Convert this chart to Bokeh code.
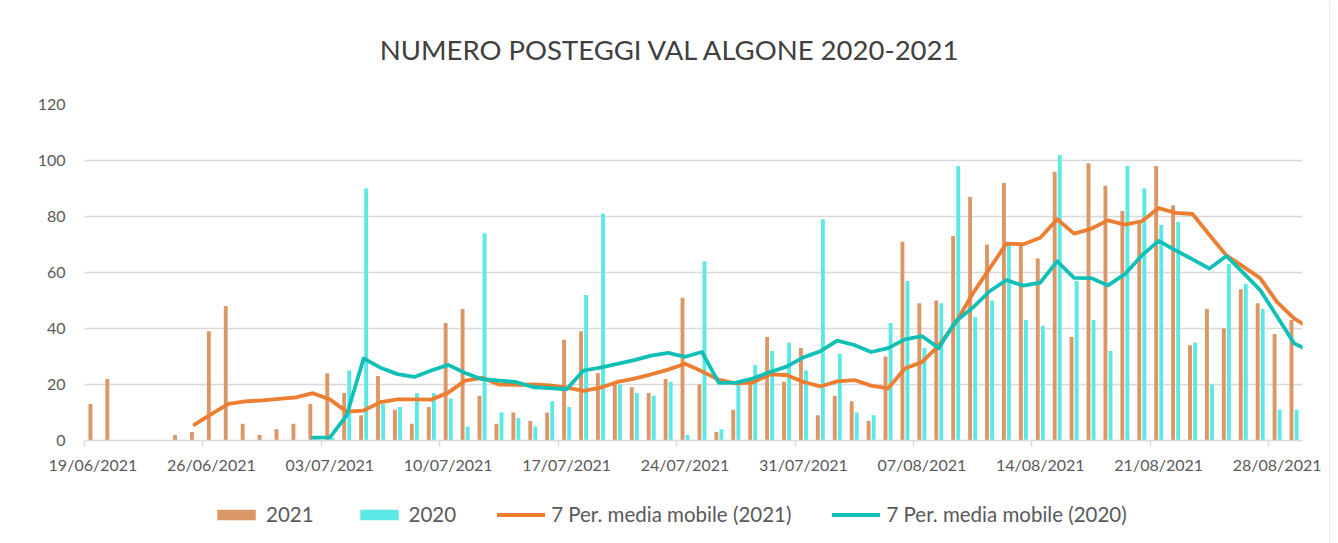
import pandas as pd
from bokeh.plotting import figure
from bokeh.layouts import column, row
from bokeh.models import Range1d, FixedTicker, Legend, LegendItem, ColumnDataSource, Label
from bokeh.transform import dodge
from bokeh.embed import file_html
from bokeh.resources import INLINE

NaN = float("nan")

# ---- data -------------------------------------------------------------
# daily categories (19/06/2021 ... 30/08/2021)
dates = pd.date_range("2021-06-19", periods=73)

tick_labels = ["19/06/2021", "26/06/2021", "03/07/2021", "10/07/2021",
               "17/07/2021", "24/07/2021", "31/07/2021", "07/08/2021",
               "14/08/2021", "21/08/2021", "28/08/2021"]

# bars 2021 (19/06 .. 29/08)
posteggi_2021 = [13, 22, 0, 0, 0, 2, 3, 39, 48, 6, 2, 4, 6, 13, 24, 17, 9, 23,
                 11, 6, 12, 42, 47, 16, 6, 10, 7, 10, 36, 39, 24, 20, 19, 17,
                 22, 51, 20, 3, 11, 21, 37, 21, 33, 9, 16, 14, 7, 30, 71, 49,
                 50, 73, 87, 70, 92, 70, 65, 96, 37, 99, 91, 82, 78, 98, 84,
                 34, 47, 40, 54, 49, 38, 43]

# bars 2020 (same calendar days, data from 02/07)
posteggi_2020 = [NaN] * 13 + [1, 1, 25, 90, 13, 12, 17, 17, 15, 5, 74, 10, 8,
                              5, 14, 12, 52, 81, 20, 17, 16, 21, 2, 64, 4, 21,
                              27, 32, 35, 25, 79, 31, 10, 9, 42, 57, 33, 49, 98,
                              44, 50, 70, 43, 41, 102, 57, 43, 32, 98, 90, 77,
                              78, 35, 20, 63, 56, 47, 11, 11]

# 7 period moving averages as drawn (19/06 .. 30/08)
media_mobile_2021 = [NaN] * 6 + [5.7, 9.4, 13.1, 14.0, 14.3, 14.9, 15.4, 16.9,
                                 14.7, 10.3, 10.7, 13.7, 14.7, 14.7, 14.6, 17.1,
                                 21.4, 22.4, 20.0, 19.9, 20.0, 19.7, 18.9, 17.7,
                                 18.9, 20.9, 22.1, 23.6, 25.3, 27.4, 24.7, 21.7,
                                 20.4, 20.7, 23.6, 23.4, 20.9, 19.3, 21.1, 21.6,
                                 19.6, 18.6, 25.7, 28.0, 33.9, 42.0, 52.4, 61.4,
                                 70.3, 70.1, 72.4, 79.0, 73.9, 75.6, 78.6, 77.1,
                                 78.3, 83.0, 81.3, 80.9, 73.4, 66.1, 62.1, 58.0,
                                 49.4, 43.6, 39.9]

media_mobile_2020 = [NaN] * 13 + [1.0, 1.0, 9.0, 29.3, 26.0, 23.7, 22.7, 25.0,
                                  27.0, 24.1, 21.9, 21.4, 20.9, 19.1, 18.7, 18.3,
                                  25.0, 26.0, 27.4, 28.7, 30.3, 31.3, 29.9, 31.6,
                                  20.6, 20.7, 22.1, 24.4, 26.4, 29.7, 31.9, 35.7,
                                  34.1, 31.6, 33.0, 36.1, 37.3, 33.0, 42.6, 47.4,
                                  53.3, 57.3, 55.3, 56.4, 64.0, 58.1, 58.0, 55.4,
                                  59.4, 66.1, 71.3, 67.9, 64.7, 61.4, 65.9, 59.9,
                                  53.7, 44.3, 34.7, 31.8]

title_text = "NUMERO POSTEGGI VAL ALGONE 2020-2021"
series_names = ["2021", "2020", "7 Per. media mobile (2021)",
                "7 Per. media mobile (2020)"]

# ---- style --------------------------------------------------------------
C21_BAR = "#DB9765"
C20_BAR = "#5CE9E6"
C21_LINE = "#ED7D31"
C20_LINE = "#10BFB5"
GRID = "#D9D9D9"
TXT = "#595959"
FONT = "Lato"
W = 1329            # chart area width (border line right after it)
FL, FR = 84, 1302   # plot frame left / right (px)
TITLE_H, MAIN_H, LEG_H = 80, 410, 53


def strip(height):
    f = figure(width=W, height=height, x_range=Range1d(0, FR - FL),
               y_range=Range1d(0, height), output_backend="svg",
               toolbar_location=None, x_axis_location=None,
               y_axis_location=None, min_border_left=FL,
               min_border_right=W - FR, min_border_top=0, min_border_bottom=0)
    f.outline_line_color = None
    f.grid.visible = False
    f.background_fill_color = "white"
    f.border_fill_color = "white"
    return f


# ---- title strip ------------------------------------------------------------
tf = strip(TITLE_H)
tf.add_layout(Label(x=670 - FL, y=TITLE_H - 49, text=title_text,
                    text_align="center", text_baseline="middle",
                    text_font=FONT, text_font_size="27.5px",
                    text_color="#404040"))

# ---- main chart ---------------------------------------------------------------
n_bar = len(posteggi_2021)
bar_src = ColumnDataSource(dict(day=list(range(n_bar)),
                                v21=posteggi_2021, v20=posteggi_2020))
line_src = ColumnDataSource(dict(day=list(range(len(media_mobile_2021))),
                                 m21=media_mobile_2021, m20=media_mobile_2020))

p = figure(width=W, height=MAIN_H,
           x_range=Range1d(0, n_bar), y_range=Range1d(0, 120),
           output_backend="svg", toolbar_location=None,
           min_border_left=FL, min_border_right=W - FR,
           min_border_top=104 - TITLE_H, min_border_bottom=50)
p.outline_line_color = None
p.background_fill_color = "white"
p.border_fill_color = "white"

bar_style_21 = dict(fill_color=C21_BAR, line_color=None)
bar_style_20 = dict(fill_color=C20_BAR, line_color=None)
line_style_21 = dict(color=C21_LINE, line_width=3.8, line_join="round", line_cap="round")
line_style_20 = dict(color=C20_LINE, line_width=3.8, line_join="round", line_cap="round")

p.vbar(x=dodge("day", 0.35), top="v21", width=0.23, source=bar_src, **bar_style_21)
p.vbar(x=dodge("day", 0.65), top="v20", width=0.23, source=bar_src, **bar_style_20)
p.line(x=dodge("day", 0.5), y="m21", source=line_src, **line_style_21)
p.line(x=dodge("day", 0.5), y="m20", source=line_src, **line_style_20)

tick_days = [int(dates.get_loc(pd.to_datetime(t, format="%d/%m/%Y")))
             for t in tick_labels]
p.xaxis.ticker = FixedTicker(ticks=[d + 0.5 for d in tick_days],
                             minor_ticks=tick_days)
p.xaxis.major_label_overrides = {d + 0.5: t for d, t in zip(tick_days, tick_labels)}
p.xaxis.major_tick_line_color = None
p.xaxis.major_tick_out = 6
p.xaxis.major_tick_in = 0
p.xaxis.minor_tick_line_color = GRID
p.xaxis.minor_tick_line_width = 1.5
p.xaxis.minor_tick_out = 6
p.xaxis.minor_tick_in = 0
p.xaxis.axis_line_color = GRID
p.xaxis.axis_line_width = 1.5
p.xaxis.major_label_standoff = 8
p.xaxis.major_label_text_font = FONT
p.xaxis.major_label_text_font_size = "16px"
p.xaxis.major_label_text_color = TXT

p.yaxis.ticker = FixedTicker(ticks=list(range(0, 121, 20)))
p.yaxis.axis_line_color = None
p.yaxis.major_tick_line_color = None
p.yaxis.minor_tick_line_color = None
p.yaxis.major_tick_out = 0
p.yaxis.major_label_standoff = 19
p.yaxis.major_label_text_font = FONT
p.yaxis.major_label_text_font_size = "16px"
p.yaxis.major_label_text_color = TXT

p.xgrid.visible = False
p.ygrid.grid_line_color = GRID
p.ygrid.grid_line_width = 1.5

# ---- legend strip -------------------------------------------------------------
lf = strip(LEG_H)
hidden = ColumnDataSource(dict(x=[-50], y=[-50]))
g21 = lf.vbar(x="x", top="y", width=0.1, source=hidden, **bar_style_21)
g20 = lf.vbar(x="x", top="y", width=0.1, source=hidden, **bar_style_20)
gl21 = lf.line(x="x", y="y", source=hidden, **line_style_21)
gl20 = lf.line(x="x", y="y", source=hidden, **line_style_20)

legend = Legend(items=[LegendItem(label=series_names[0], renderers=[g21]),
                       LegendItem(label=series_names[1], renderers=[g20]),
                       LegendItem(label=series_names[2], renderers=[gl21]),
                       LegendItem(label=series_names[3], renderers=[gl20])],
                orientation="horizontal", location=(212 - FL, 17),
                spacing=41, label_standoff=6, glyph_width=48, glyph_height=13,
                padding=0, margin=0, border_line_color=None,
                background_fill_alpha=0,
                label_text_font=FONT, label_text_font_size="20.5px",
                label_text_color=TXT)
lf.add_layout(legend, "center")

# ---- chart border on the right --------------------------------------------
edge = figure(width=1, height=TITLE_H + MAIN_H + LEG_H, output_backend="svg",
              toolbar_location=None, x_axis_location=None, y_axis_location=None,
              min_border=0, x_range=Range1d(0, 1), y_range=Range1d(0, 1))
edge.outline_line_color = None
edge.grid.visible = False
edge.background_fill_color = GRID
edge.border_fill_color = GRID

layout = row(column(tf, p, lf, spacing=0), edge, spacing=0)
open("out.html", "w").write(file_html(layout, INLINE))
